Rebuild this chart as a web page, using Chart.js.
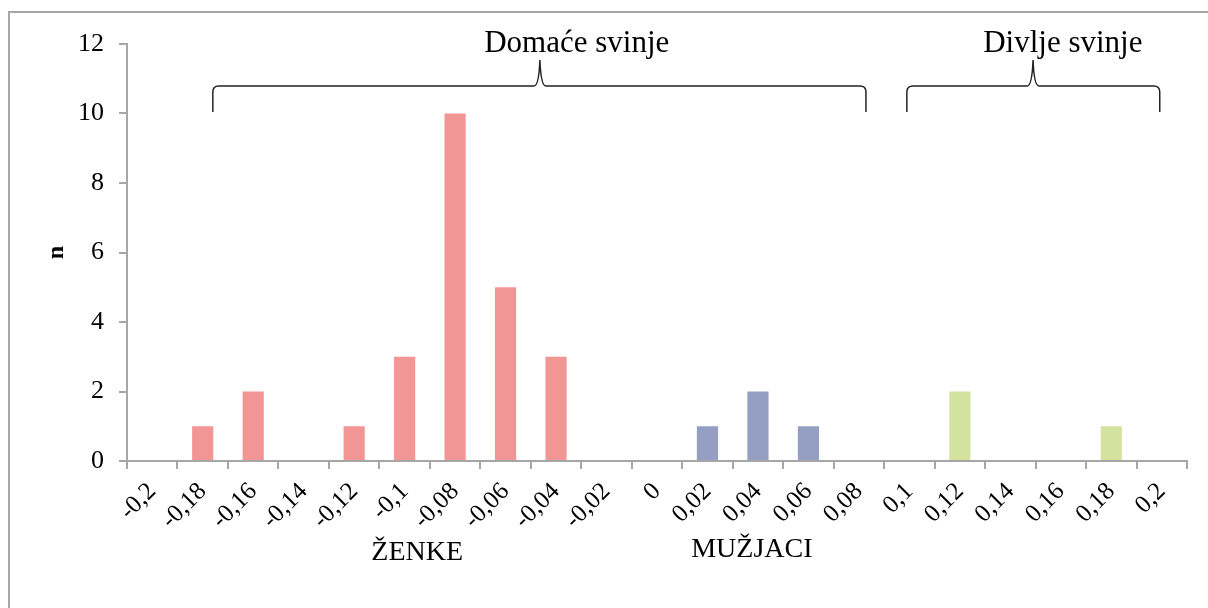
<!DOCTYPE html>
<html>
<head>
<meta charset="utf-8">
<script src="https://cdn.jsdelivr.net/npm/chart.js@4"></script>
<style>
  html, body { margin: 0; padding: 0; background: #fff; }
  #wrap { position: relative; width: 1208px; height: 608px; overflow: hidden; }
  #frame { position: absolute; left: 8px; top: 11px; width: 1400px; height: 800px;
           border-left: 2px solid #a6a6a6; border-top: 2px solid #a6a6a6; }
  canvas { position: absolute; left: 0; top: 0; }
</style>
</head>
<body>
<div id="wrap">
  <div id="frame"></div>
  <canvas id="graf" width="1208" height="608"></canvas>
</div>
<script>
// kategorije na x osi
const kategorije = ['-0,2', '-0,18', '-0,16', '-0,14', '-0,12', '-0,1', '-0,08', '-0,06', '-0,04', '-0,02',
  '0', '0,02', '0,04', '0,06', '0,08', '0,1', '0,12', '0,14', '0,16', '0,18', '0,2'];

// broj jedinki po kategoriji
const zenke   = [0, 1, 2, 0, 1, 3, 10, 5, 3, 0, 0, null, null, null, null, null, null, null, null, null, null];
const muzjaci = [null, null, null, null, null, null, null, null, null, null, null, 1, 2, 1, 0, null, null, null, null, null, null];
const divlje  = [null, null, null, null, null, null, null, null, null, null, null, null, null, null, null, 0, 2, 0, 0, 1, 0];

const yTicks = [0, 2, 4, 6, 8, 10, 12];

const serif = "'Liberation Serif', 'Times New Roman', serif";

// viticaste zagrade i natpisi
function zagrada(ctx, x1, x2, xm, yb, yl, yp) {
    const r = 6;
    ctx.beginPath();
    ctx.moveTo(x1, yb);
    ctx.lineTo(x1, yl + r);
    ctx.quadraticCurveTo(x1, yl, x1 + r, yl);
    ctx.lineTo(xm - 6, yl);
    ctx.quadraticCurveTo(xm - 1, yl, xm, yp);
    ctx.quadraticCurveTo(xm + 1, yl, xm + 6, yl);
    ctx.lineTo(x2 - r, yl);
    ctx.quadraticCurveTo(x2, yl, x2, yl + r);
    ctx.lineTo(x2, yb);
    ctx.stroke();
}

const natpisi = {
    id: 'natpisi',
    afterDraw(chart) {
        const ctx = chart.ctx;
        const x = chart.scales.x;
        const y = chart.scales.y;
        const bottom = chart.chartArea.bottom;
        ctx.save();
        ctx.strokeStyle = '#222';
        ctx.lineWidth = 1.5;
        zagrada(ctx, x.getPixelForValue(1.2), x.getPixelForValue(14.14), x.getPixelForValue(7.68),
            y.getPixelForValue(10.04), y.getPixelForValue(10.79), y.getPixelForValue(11.54));
        zagrada(ctx, x.getPixelForValue(14.95), x.getPixelForValue(19.96), x.getPixelForValue(17.45),
            y.getPixelForValue(10.04), y.getPixelForValue(10.79), y.getPixelForValue(11.54));

        ctx.fillStyle = '#000';
        ctx.textAlign = 'center';
        ctx.textBaseline = 'alphabetic';
        ctx.font = '31px ' + serif;
        ctx.fillText('Domaće svinje', x.getPixelForValue(8.41), y.getPixelForValue(11.77));
        ctx.fillText('Divlje svinje', x.getPixelForValue(18.04), y.getPixelForValue(11.77));

        ctx.font = '28px ' + serif;
        ctx.fillText('ŽENKE', x.getPixelForValue(5.25), bottom + 99);
        ctx.fillText('MUŽJACI', x.getPixelForValue(11.88), bottom + 96);
        ctx.restore();
    }
};

const osovina = '#a6a6a6';

new Chart(document.getElementById('graf'), {
    type: 'bar',
    data: {
        labels: kategorije,
        datasets: [
            { label: 'Ženke', data: zenke, backgroundColor: '#F29595' },
            { label: 'Mužjaci', data: muzjaci, backgroundColor: '#959FC4' },
            { label: 'Divlje svinje', data: divlje, backgroundColor: '#D4E2A0' }
        ]
    },
    options: {
        responsive: false,
        animation: false,
        barPercentage: 0.42,
        categoryPercentage: 1,
        layout: { padding: { top: 44, right: 21, left: 0, bottom: 0 } },
        plugins: {
            legend: { display: false },
            tooltip: { enabled: false }
        },
        scales: {
            x: {
                stacked: true,
                afterFit: (s) => { s.height = 147; },
                grid: {
                    offset: true,
                    drawOnChartArea: false,
                    drawTicks: true,
                    tickLength: 8,
                    color: osovina,
                    lineWidth: 2
                },
                border: { color: osovina, width: 2 },
                ticks: {
                    autoSkip: false,
                    minRotation: 45,
                    maxRotation: 45,
                    padding: 8,
                    color: '#000',
                    font: { family: serif, size: 25 }
                }
            },
            y: {
                stacked: true,
                min: 0,
                max: 12,
                afterFit: (s) => { s.width = 127; },
                afterBuildTicks: (s) => { s.ticks = yTicks.map(v => ({ value: v })); },
                grid: {
                    drawOnChartArea: false,
                    drawTicks: true,
                    tickLength: 8,
                    color: osovina,
                    lineWidth: 2
                },
                border: { color: osovina, width: 2 },
                ticks: {
                    padding: 15,
                    color: '#000',
                    font: { family: serif, size: 26 }
                },
                title: {
                    display: true,
                    text: 'n',
                    color: '#000',
                    font: { family: serif, size: 24, weight: 'bold' },
                    padding: { top: 42, bottom: 0 }
                }
            }
        }
    },
    plugins: [natpisi]
});
</script>
</body>
</html>
